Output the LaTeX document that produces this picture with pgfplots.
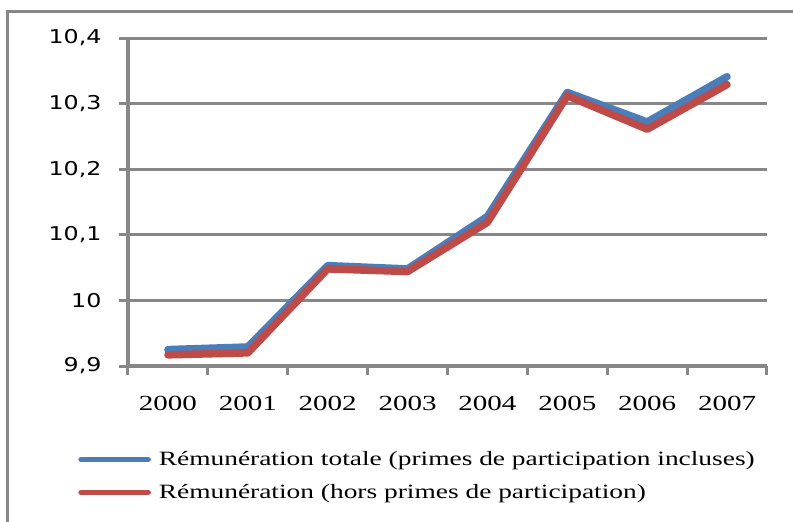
\documentclass[border=0pt]{standalone}
\usepackage{pgfplots}
\pgfplotsset{compat=1.18}
\usepackage{fontspec}
\setmainfont{Liberation Serif}
\newfontfamily\ylabfont[FakeStretch=1.25]{DejaVu Sans}
\newfontfamily\serifwide[FakeStretch=1.35]{Liberation Serif}
\definecolor{bluel}{HTML}{4A7EBB}
\definecolor{redl}{HTML}{BE4B48}
\definecolor{gridg}{HTML}{878787}
\begin{document}
\begin{tikzpicture}
\useasboundingbox (-128pt,-156pt) rectangle (665pt,366pt);
\begin{scope}
\clip (-128pt,-156pt) rectangle (665pt,366pt);
\draw[gridg, line width=3pt] (-120pt,-220pt) rectangle (720pt,354pt);
\end{scope}
\begin{axis}[
  at={(0pt,0pt)}, anchor=south west,
  scale only axis, width=639pt, height=328pt,
  xmin=-0.5, xmax=7.5, ymin=9.9, ymax=10.4,
  xtick={-0.5,0.5,...,7.5}, xticklabels={},
  extra x ticks={0,1,2,3,4,5,6,7},
  extra x tick labels={2000,2001,2002,2003,2004,2005,2006,2007},
  extra x tick style={major tick length=0pt, grid=none,
     xticklabel style={font=\fontsize{21.5}{25}\selectfont\serifwide, yshift=-27pt}},
  ytick={9.9,10,10.1,10.2,10.3,10.4},
  yticklabels={{9,9},{10},{10,1},{10,2},{10,3},{10,4}},
  yticklabel style={font=\fontsize{19}{22}\selectfont\ylabfont, xshift=-14pt},
  axis x line*=bottom, axis y line*=left,
  axis line style={gridg, line width=4pt, -},
  tick style={gridg, line width=3pt},
  major tick length=9pt,
  tick align=outside,
  ymajorgrids, major grid style={gridg, line width=3pt},
  clip=false,
  legend style={at={(axis description cs:-0.078,-0.255)}, anchor=north west,
    draw=none, fill=none, font=\fontsize{20.3}{24}\selectfont\serifwide,
    row sep=13pt, inner sep=0pt},
  legend cell align=left,
  legend image code/.code={\draw[#1, line width=5.5pt, line cap=round] (0pt,0pt) -- (67pt,0pt);},
]
\addplot[bluel, line width=7.5pt, line cap=round, line join=round] coordinates {
(0,9.925) (1,9.929) (2,10.053) (3,10.048) (4,10.128) (5,10.317) (6,10.272) (7,10.341)};
\addlegendentry{\hspace{6pt}Rémunération totale (primes de participation incluses)}
\addplot[redl, line width=7.5pt, line cap=round, line join=round] coordinates {
(0,9.917) (1,9.920) (2,10.048) (3,10.044) (4,10.119) (5,10.312) (6,10.261) (7,10.329)};
\addlegendentry{\hspace{6pt}Rémunération (hors primes de participation)}
\end{axis}
\end{tikzpicture}
\end{document}
